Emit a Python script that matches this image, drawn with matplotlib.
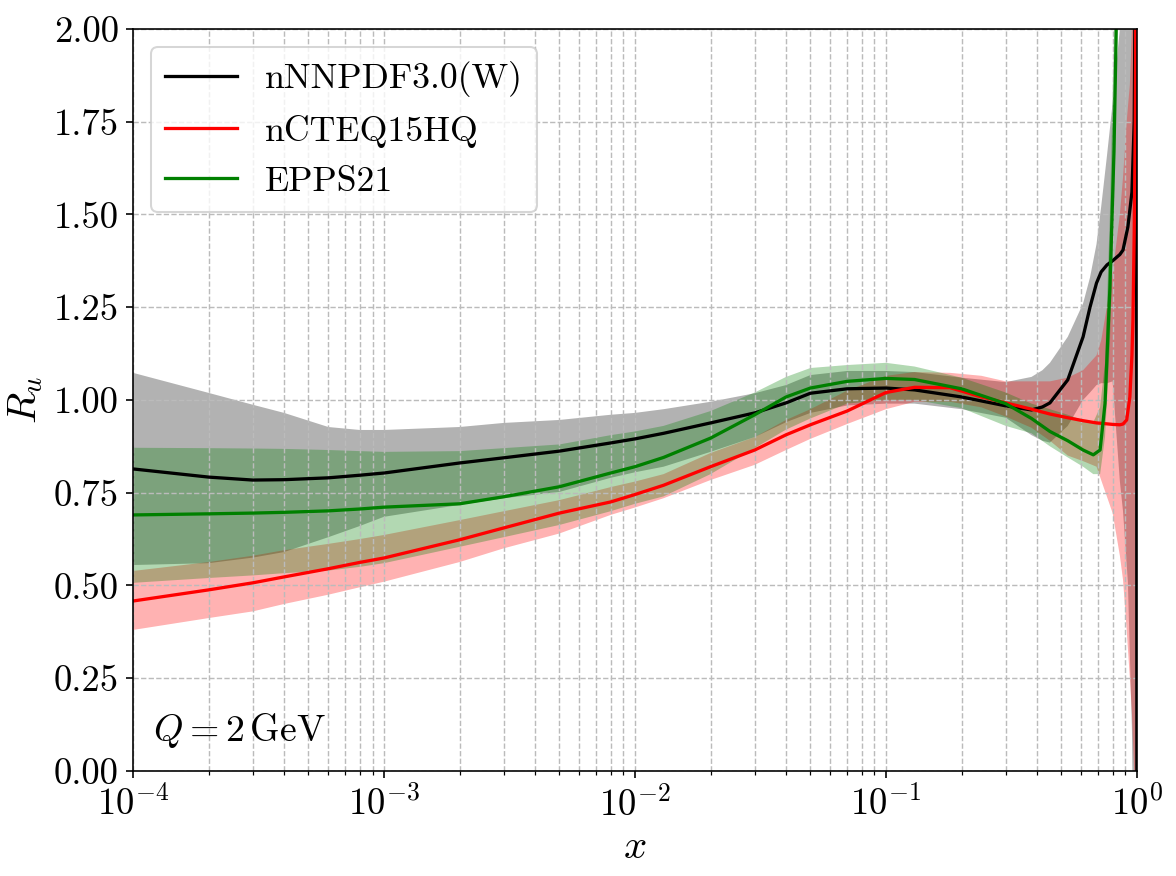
import numpy as np
import matplotlib
matplotlib.use("Agg")
import matplotlib.pyplot as plt

plt.rcParams['font.family'] = 'serif'
plt.rcParams['font.serif'] = ['cmr10']
plt.rcParams['mathtext.fontset'] = 'cm'
plt.rcParams['axes.formatter.use_mathtext'] = True

# nNNPDF3.0(W)
x_nn = [1e-4, 2e-4, 3e-4, 4e-4, 6e-4, 8e-4, 1e-3, 2e-3, 3e-3, 5e-3, 8e-3, 1e-2, 1.3e-2, 2e-2,
        3e-2, 4e-2, 5e-2, 7e-2, 0.1, 0.13, 0.2, 0.3, 0.38, 0.42, 0.45, 0.53, 0.61, 0.65, 0.69, 0.72,
        0.76, 0.80, 0.855, 0.88, 0.92, 0.955, 0.975, 0.995, 1.0]
nn_c = [0.814, 0.792, 0.784, 0.785, 0.790, 0.797, 0.803, 0.830, 0.844, 0.862, 0.884, 0.895, 0.910, 0.938,
        0.965, 0.992, 1.018, 1.030, 1.032, 1.027, 1.008, 0.984, 0.973, 0.981, 0.992, 1.054, 1.170, 1.250, 1.315, 1.345,
        1.364, 1.375, 1.392, 1.404, 1.466, 1.560, 1.750, 2.600, -0.500]
nn_hi = [1.073, 1.019, 0.987, 0.965, 0.927, 0.919, 0.919, 0.927, 0.938, 0.946, 0.960, 0.965, 0.975, 0.995,
         1.018, 1.040, 1.067, 1.078, 1.078, 1.075, 1.060, 1.048, 1.062, 1.080, 1.100, 1.170, 1.260, 1.330, 1.420, 1.520,
         1.660, 1.800, 2.000, 2.100, 2.300, 2.500, 2.600, 2.800, 2.800]
nn_lo = [0.555, 0.560, 0.575, 0.590, 0.630, 0.660, 0.685, 0.717, 0.735, 0.752, 0.790, 0.805, 0.820, 0.860,
         0.900, 0.940, 0.965, 0.985, 0.990, 0.990, 0.975, 0.952, 0.905, 0.890, 0.885, 0.930, 1.000, 1.020, 1.040, 1.045,
         1.045, 1.050, 0.780, 0.700, 0.510, 0.110, -0.500, -1.000, -1.000]

# nCTEQ15HQ
x_nc = [1e-4, 2e-4, 3e-4, 4e-4, 6e-4, 8e-4, 1e-3, 2e-3, 3e-3, 5e-3, 8e-3, 1e-2, 1.3e-2, 2e-2,
        3e-2, 4e-2, 5e-2, 7e-2, 0.1, 0.13, 0.18, 0.24, 0.3, 0.38, 0.45, 0.53, 0.61, 0.69, 0.72,
        0.80, 0.855, 0.88, 0.91, 0.937, 0.955, 0.964, 0.975, 0.985, 0.995, 1.0]
nc_c = [0.458, 0.488, 0.507, 0.523, 0.545, 0.562, 0.574, 0.623, 0.655, 0.695, 0.725, 0.745, 0.770, 0.820,
        0.865, 0.906, 0.933, 0.970, 1.020, 1.034, 1.033, 1.008, 0.992, 0.975, 0.962, 0.952, 0.944, 0.938, 0.937,
        0.934, 0.933, 0.935, 0.946, 1.008, 1.120, 1.216, 1.450, 1.750, 2.500, 3.000]
nc_hi = [0.539, 0.563, 0.580, 0.595, 0.612, 0.625, 0.636, 0.676, 0.700, 0.730, 0.765, 0.780, 0.800, 0.857,
         0.900, 0.946, 0.975, 1.025, 1.065, 1.075, 1.073, 1.065, 1.050, 1.050, 1.050, 1.060, 1.080, 1.120, 1.160,
         1.340, 1.500, 1.600, 1.750, 1.850, 2.000, 2.100, 2.300, 2.600, 3.000, 3.000]
nc_lo = [0.380, 0.412, 0.430, 0.450, 0.475, 0.495, 0.510, 0.563, 0.600, 0.640, 0.690, 0.710, 0.735, 0.784,
         0.825, 0.865, 0.895, 0.935, 0.975, 0.995, 0.995, 0.980, 0.955, 0.925, 0.890, 0.850, 0.835, 0.820, 0.784,
         0.695, 0.580, 0.515, 0.380, 0.250, 0.156, 0.080, 0.000, -0.300, -0.500, -0.500]

# EPPS21
x_ep = [1e-4, 2e-4, 3e-4, 4e-4, 6e-4, 8e-4, 1e-3, 2e-3, 3e-3, 5e-3, 8e-3, 1e-2, 1.3e-2, 2e-2,
        3e-2, 4e-2, 5e-2, 7e-2, 0.1, 0.13, 0.2, 0.3, 0.38, 0.45, 0.53, 0.61, 0.67, 0.713,
        0.746, 0.78, 0.81, 0.832, 0.85]
ep_c = [0.690, 0.693, 0.695, 0.697, 0.701, 0.706, 0.711, 0.720, 0.739, 0.766, 0.803, 0.820, 0.845, 0.897,
        0.960, 1.008, 1.032, 1.050, 1.058, 1.055, 1.030, 0.990, 0.950, 0.915, 0.890, 0.865, 0.852, 0.865,
        0.990, 1.300, 1.670, 2.100, 3.000]
ep_hi = [0.871, 0.870, 0.869, 0.868, 0.865, 0.862, 0.860, 0.862, 0.870, 0.880, 0.905, 0.915, 0.930, 0.970,
         1.020, 1.062, 1.086, 1.094, 1.100, 1.090, 1.060, 1.020, 0.990, 0.975, 0.960, 0.945, 0.940, 0.980,
         1.100, 1.500, 2.000, 2.600, 3.000]
ep_lo = [0.507, 0.520, 0.527, 0.533, 0.540, 0.550, 0.560, 0.604, 0.630, 0.663, 0.700, 0.720, 0.740, 0.800,
         0.870, 0.920, 0.950, 0.990, 1.000, 1.000, 0.978, 0.930, 0.910, 0.875, 0.845, 0.820, 0.800, 0.800,
         0.900, 1.150, 1.500, 2.000, 2.600]

labels = ['nNNPDF3.0(W)', 'nCTEQ15HQ', 'EPPS21']

fig = plt.figure(figsize=(8, 5.96), dpi=147)
ax = fig.add_axes([0.1131, 0.1199, 0.8537, 0.847])

ax.fill_between(x_nn, nn_lo, nn_hi, color='gray', alpha=0.6, lw=0)
ax.fill_between(x_nc, nc_lo, nc_hi, color='red', alpha=0.3, lw=0)
ax.fill_between(x_ep, ep_lo, ep_hi, color='green', alpha=0.3, lw=0)

ax.plot(x_nn, nn_c, color='black', lw=1.6, label=labels[0])
ax.plot(x_nc, nc_c, color='red', lw=1.6, label=labels[1])
ax.plot(x_ep, ep_c, color='green', lw=1.6, label=labels[2])

ax.set_xscale('log')
ax.set_xlim(1e-4, 1)
ax.set_ylim(0, 2)
ax.set_yticks(np.arange(0, 2.01, 0.25))
ax.yaxis.set_major_formatter(plt.FormatStrFormatter('%.2f'))
ax.grid(True, which='major', linestyle='--', color='#bbbbbb', lw=0.7)
ax.grid(True, which='minor', axis='x', linestyle='--', color='#bbbbbb', lw=0.7)
ax.tick_params(labelsize=18)

ax.set_xlabel(r'$x$', fontsize=20)
ax.set_ylabel(r'$R_u$', fontsize=20)
ax.text(0.02, 0.04, r'$Q = 2\,\mathrm{GeV}$', transform=ax.transAxes, fontsize=18.5)
ax.legend(loc='upper left', fontsize=17.5)

fig.savefig('out.png', dpi=147)
